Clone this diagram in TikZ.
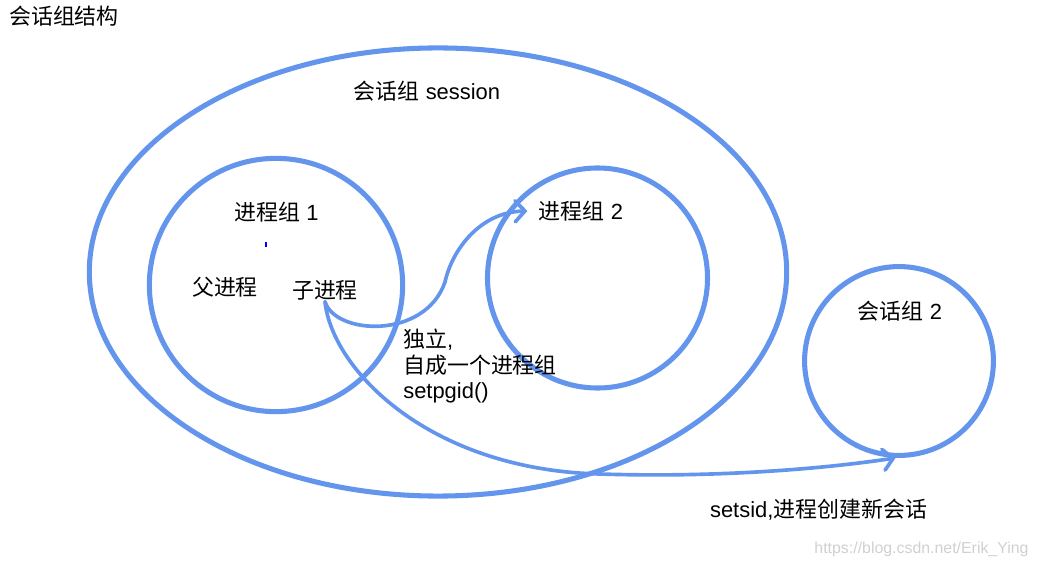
\documentclass[tikz,border=0pt]{standalone}
\usepackage{fontspec}
\setmainfont{Liberation Sans}
\newfontfamily\cjk{Noto Sans CJK SC}
\usetikzlibrary{shapes.geometric,arrows.meta}
\definecolor{groupblue}{HTML}{6495ED}
\definecolor{markgray}{HTML}{D0D0D0}

\tikzset{
  ring/.style={draw=groupblue, line width=3.6pt, inner sep=0pt},
  txt/.style={font=\fontsize{15.6}{18.4}\selectfont, inner sep=0pt},
  link/.style={groupblue, line width=2.6pt, line cap=round,
    -{Straight Barb[length=7pt,width=15pt,line cap=round]}}
}

\begin{document}
\begin{tikzpicture}[x=0.025cm, y=-0.025cm]
\useasboundingbox (0,0) rectangle (1037,569);

\node[txt] (title) at (64,16) {\cjk 会话组结构};

\node[ring, ellipse, minimum width=17.43cm, minimum height=11.2cm] (sess) at (438,272) {};
\node[txt] (sessl) at (427,91) {{\cjk 会话组} session};

\node[ring, circle, minimum size=6.33cm] (pg1) at (276,285) {};
\node[txt] (pg1l) at (276.5,212) {{\cjk 进程组} 1};
\node[txt] (fu) at (225,287) {\cjk 父进程};
\node[txt] (zi) at (325,290) {\cjk 子进程};
\fill[blue] (264.5,242) rectangle (266.5,247);

\node[ring, circle, minimum size=5.5cm] (pg2) at (597.5,278) {};
\node[txt] (pg2l) at (581,211) {{\cjk 进程组} 2};

\node[ring, circle, minimum size=4.72cm] (s2) at (899,361) {};
\node[txt] (s2l) at (900,311) {{\cjk 会话组} 2};

\node[txt, anchor=west, align=left] (indep) at (403,366)
  {{\cjk 独立}{\rm ,}\\{\cjk 自成一个进程组}\\setpgid()};
\node[txt] (newsess) at (818.5,510) {setsid,{\cjk 进程创建新会话}};

\coordinate (fork) at ([yshift=-1pt]zi.south);
\draw[link] (fork) .. controls (335,335) and (425,340) .. (445,282)
  .. controls (452,250) and (480,212) .. ([xshift=-8pt]pg2l.west);
\draw[link] (fork) .. controls (332,370) and (430,470) .. (600,474)
  .. controls (720,478) and (830,468) .. (s2.-92);

\node[font=\fontsize{11.3}{13}\selectfont, text=markgray, inner sep=0pt] (mark) at (921.5,549) {https://blog.csdn.net/Erik\_Ying};
\end{tikzpicture}
\end{document}
